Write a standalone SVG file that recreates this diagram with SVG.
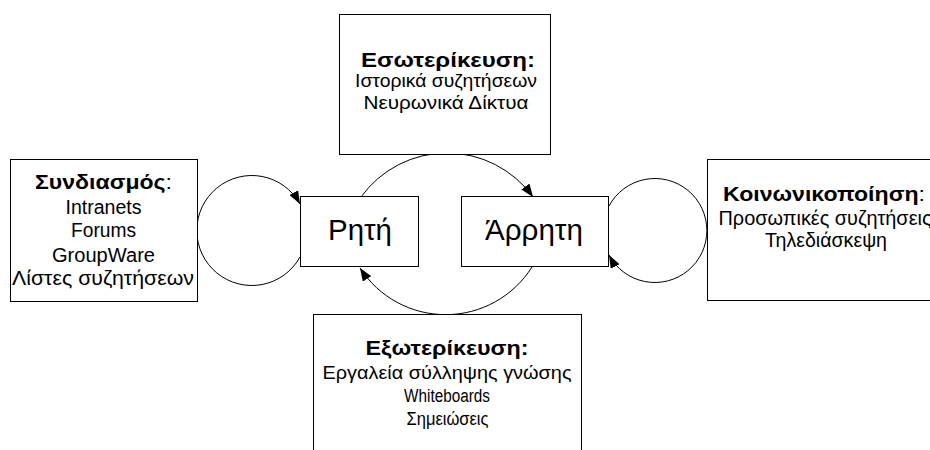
<svg xmlns="http://www.w3.org/2000/svg" width="930" height="450" viewBox="0 0 930 450">
<style>
  .box { fill: #ffffff; stroke: #000000; stroke-width: 1; }
  .conn { fill: none; stroke: #000000; stroke-width: 1; marker-end: url(#arrow); }
  text { font-family: "Liberation Sans", Arial, sans-serif; fill: #000000; text-anchor: middle; }
  .t { font-weight: bold; }
  .big { font-size: 29px; }
</style>
<defs>
  <marker id="arrow" viewBox="0 0 13 10" refX="13" refY="5" markerWidth="13" markerHeight="10" markerUnits="userSpaceOnUse" orient="auto">
    <path d="M0,0 L13,5 L0,10 z" fill="#000000"/>
  </marker>
</defs>
<rect width="930" height="450" fill="#ffffff"/>
<g id="connectors">
  <path class="conn" d="M300,257 A55,55 0 1 1 300,204"/>
  <path class="conn" d="M609,206 A52,52 0 1 1 609,255"/>
  <path class="conn" d="M361,197 A106,106 0 0 1 533,197"/>
  <path class="conn" d="M532,267 A102,102 0 0 1 360,268"/>
</g>
<g id="node-esoterikeusi">
  <rect class="box" x="339.5" y="14.5" width="211" height="140"/>
  <text x="448" y="66.5" font-size="20" class="t" textLength="174" lengthAdjust="spacingAndGlyphs">Εσωτερίκευση:</text>
  <text x="446" y="87" font-size="19" textLength="182" lengthAdjust="spacingAndGlyphs">Ιστορικά συζητήσεων</text>
  <text x="446" y="108.5" font-size="19" textLength="165" lengthAdjust="spacingAndGlyphs">Νευρωνικά Δίκτυα</text>
</g>
<g id="node-syndiasmos">
  <rect class="box" x="10.5" y="159.5" width="187" height="142"/>
  <text x="103.5" y="188.5" font-size="21" textLength="137" lengthAdjust="spacingAndGlyphs"><tspan class="t">Συνδιασμός</tspan>:</text>
  <text x="103.5" y="214" font-size="20" textLength="76" lengthAdjust="spacingAndGlyphs">Intranets</text>
  <text x="103.5" y="237" font-size="20" textLength="65" lengthAdjust="spacingAndGlyphs">Forums</text>
  <text x="103.5" y="261.5" font-size="20" textLength="103" lengthAdjust="spacingAndGlyphs">GroupWare</text>
  <text x="103" y="285" font-size="20" textLength="182" lengthAdjust="spacingAndGlyphs">Λίστες συζητήσεων</text>
</g>
<g id="node-koinonikopoiisi">
  <rect class="box" x="707.5" y="159.5" width="240" height="141"/>
  <text x="824" y="200.5" font-size="21" textLength="202" lengthAdjust="spacingAndGlyphs"><tspan class="t">Κοινωνικοποίηση</tspan>:</text>
  <text x="825" y="225" font-size="20" textLength="213" lengthAdjust="spacingAndGlyphs">Προσωπικές συζητήσεις</text>
  <text x="826" y="247" font-size="20" textLength="122" lengthAdjust="spacingAndGlyphs">Τηλεδιάσκεψη</text>
</g>
<g id="node-exoterikeusi">
  <rect class="box" x="313.5" y="314.5" width="268" height="150"/>
  <text x="447" y="355" font-size="20" class="t" textLength="163" lengthAdjust="spacingAndGlyphs">Εξωτερίκευση:</text>
  <text x="447" y="378.5" font-size="19" textLength="249" lengthAdjust="spacingAndGlyphs">Εργαλεία σύλληψης γνώσης</text>
  <text x="447" y="401.5" font-size="18" textLength="86" lengthAdjust="spacingAndGlyphs">Whiteboards</text>
  <text x="447.5" y="425" font-size="19" textLength="82" lengthAdjust="spacingAndGlyphs">Σημειώσεις</text>
</g>
<g id="node-rhti">
  <rect class="box" x="300.5" y="196.5" width="118" height="70"/>
  <text x="360" y="240" class="big" textLength="64" lengthAdjust="spacingAndGlyphs">Ρητή</text>
</g>
<g id="node-arrhti">
  <rect class="box" x="461.5" y="196.5" width="147" height="70"/>
  <text x="534" y="240" class="big" textLength="98" lengthAdjust="spacingAndGlyphs">Άρρητη</text>
</g>
</svg>
